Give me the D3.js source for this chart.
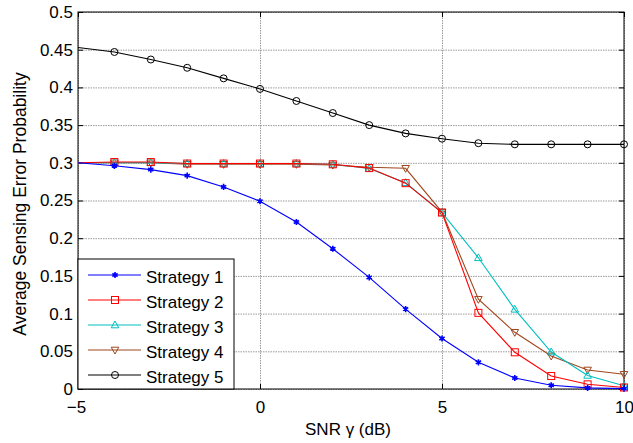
<!DOCTYPE html>
<html>
<head>
<meta charset="utf-8">
<script src="https://cdn.jsdelivr.net/npm/d3@7"></script>
<style>
  body { margin: 0; background: #fff; }
  text { font-family: "Liberation Sans", Arial, sans-serif; }
  .grid line { stroke: #9a9a9a; stroke-dasharray: 1.5,1; }
  .grid path { display: none; }
</style>
</head>
<body>
<div id="svganchor"></div>
<script>
let width = 633, height = 443;

let margin = ({top: 12, right: 9, bottom: 54, left: 78});

// data
let snr = [-5, -4, -3, -2, -1, 0, 1, 2, 3, 4, 5, 6, 7, 8, 9, 10];
let strategy1 = [0.300, 0.296, 0.291, 0.283, 0.268, 0.249, 0.2215, 0.186, 0.148, 0.106, 0.067, 0.0354, 0.0146, 0.005, 0.0015, 0.0005];
let strategy2 = [0.300, 0.301, 0.301, 0.299, 0.299, 0.299, 0.299, 0.298, 0.293, 0.273, 0.234, 0.101, 0.0487, 0.0172, 0.0062, 0.002];
let strategy3 = [0.300, 0.300, 0.300, 0.299, 0.299, 0.299, 0.299, 0.298, 0.2925, 0.2736, 0.234, 0.174, 0.1057, 0.049, 0.018, 0.0044];
let strategy4 = [0.300, 0.300, 0.300, 0.298, 0.298, 0.298, 0.298, 0.297, 0.294, 0.2927, 0.2347, 0.119, 0.0752, 0.0438, 0.0252, 0.0195];
let strategy5 = [0.453, 0.447, 0.437, 0.426, 0.412, 0.398, 0.382, 0.366, 0.350, 0.339, 0.332, 0.326, 0.3245, 0.3245, 0.3245, 0.3245];
let seriesNames = ["Strategy 1", "Strategy 2", "Strategy 3", "Strategy 4", "Strategy 5"];
let xTicks = [-5, 0, 5, 10];
let yTicks = [0, 0.05, 0.1, 0.15, 0.2, 0.25, 0.3, 0.35, 0.4, 0.45, 0.5];

let series = [
    {name: seriesNames[0], values: strategy1, color: "#0000ff", marker: "star"},
    {name: seriesNames[1], values: strategy2, color: "#ff0000", marker: "square"},
    {name: seriesNames[2], values: strategy3, color: "#00bfbf", marker: "up"},
    {name: seriesNames[3], values: strategy4, color: "#a0461e", marker: "down"},
    {name: seriesNames[4], values: strategy5, color: "#000000", marker: "circle"}
];

let fontSize = "17px";

let xScale = d3.scaleLinear()
    .domain([-5, 10])
    .range([margin.left, width - margin.right]);

let yScale = d3.scaleLinear()
    .domain([0, 0.5])
    .range([height - margin.bottom, margin.top]);

let svg = d3.select("#svganchor")
    .append("svg")
    .attr("width", width)
    .attr("height", height);

let plotW = width - margin.left - margin.right;
let plotH = height - margin.top - margin.bottom;

// grid
svg.append("g")
    .attr("class", "grid")
    .attr("transform", "translate(0," + (height - margin.bottom) + ")")
    .call(d3.axisBottom(xScale).tickValues(xTicks).tickSize(-plotH).tickFormat(""));

svg.append("g")
    .attr("class", "grid")
    .attr("transform", "translate(" + margin.left + ",0)")
    .call(d3.axisLeft(yScale).tickValues(yTicks).tickSize(-plotW).tickFormat(""));

// axes with inward ticks
let gX = svg.append("g")
    .attr("class", "x axis")
    .attr("transform", "translate(0," + (height - margin.bottom) + ")")
    .call(d3.axisBottom(xScale).tickValues(xTicks).tickSizeInner(-5).tickSizeOuter(0).tickPadding(12));

let gXTop = svg.append("g")
    .attr("transform", "translate(0," + margin.top + ")")
    .call(d3.axisTop(xScale).tickValues(xTicks).tickSizeInner(-5).tickSizeOuter(0).tickFormat(""));

let gY = svg.append("g")
    .attr("class", "y axis")
    .attr("transform", "translate(" + margin.left + ",0)")
    .call(d3.axisLeft(yScale).tickValues(yTicks).tickSizeInner(-5).tickSizeOuter(0).tickPadding(5)
        .tickFormat(function(d) { return d3.format("")(+d.toFixed(2)); }));

let gYRight = svg.append("g")
    .attr("transform", "translate(" + (width - margin.right) + ",0)")
    .call(d3.axisRight(yScale).tickValues(yTicks).tickSizeInner(-5).tickSizeOuter(0).tickFormat(""));

svg.selectAll(".tick text")
    .style("font-size", fontSize)
    .style("font-family", "'Liberation Sans', Arial, sans-serif")
    .attr("fill", "#000");

// minus sign centred like the original
gX.selectAll(".tick text").attr("dx", function(d) { return d < 0 ? "-2" : "0"; });

svg.selectAll(".domain").remove();

// box
svg.append("rect")
    .attr("x", margin.left)
    .attr("y", margin.top)
    .attr("width", plotW)
    .attr("height", plotH)
    .attr("fill", "none")
    .attr("stroke", "#000")
    .attr("stroke-width", 1);

// markers
function drawMarker(g, type, color, x, y) {
    if (type === "star") {
        g.append("path")
            .attr("d", d3.symbol().type(d3.symbolAsterisk).size(26)())
            .attr("transform", "translate(" + x + "," + y + ")")
            .attr("stroke", color)
            .attr("stroke-width", 1.6)
            .attr("fill", "none");
        g.append("circle")
            .attr("cx", x).attr("cy", y).attr("r", 1.6)
            .attr("fill", color);
    }
    else if (type === "square") {
        g.append("rect")
            .attr("x", x - 3.5).attr("y", y - 3.5)
            .attr("width", 7).attr("height", 7)
            .attr("fill", "none").attr("stroke", color);
    }
    else if (type === "up") {
        g.append("path")
            .attr("d", "M" + x + "," + (y - 4) + "L" + (x + 3.8) + "," + (y + 2.8) + "L" + (x - 3.8) + "," + (y + 2.8) + "Z")
            .attr("fill", "none").attr("stroke", color);
    }
    else if (type === "down") {
        g.append("path")
            .attr("d", "M" + x + "," + (y + 4) + "L" + (x + 3.8) + "," + (y - 2.8) + "L" + (x - 3.8) + "," + (y - 2.8) + "Z")
            .attr("fill", "none").attr("stroke", color);
    }
    else {
        g.append("circle")
            .attr("cx", x).attr("cy", y).attr("r", 3.5)
            .attr("fill", "none").attr("stroke", color);
    }
}

let line = d3.line()
    .x(function(d, i) { return xScale(snr[i]); })
    .y(function(d) { return yScale(d); });

series.slice().reverse().forEach(function(s) {
    let g = svg.append("g");
    g.append("path")
        .attr("d", line(s.values))
        .attr("fill", "none")
        .attr("stroke", s.color)
        .attr("stroke-width", 1.1);
    // the original shows no marker on the first point
    s.values.forEach(function(v, i) {
        if (i === 0) return;
        drawMarker(g, s.marker, s.color, xScale(snr[i]), yScale(v));
    });
});

// legend
let legend = svg.append("g");
legend.append("rect")
    .attr("x", margin.left)
    .attr("y", 259)
    .attr("width", 156)
    .attr("height", height - margin.bottom - 259)
    .attr("fill", "#fff")
    .attr("stroke", "#000");

series.forEach(function(s, i) {
    let y = 275 + i * 25;
    legend.append("line")
        .attr("x1", 88).attr("x2", 141)
        .attr("y1", y).attr("y2", y)
        .attr("stroke", s.color)
        .attr("stroke-width", 1.1);
    drawMarker(legend, s.marker, s.color, 115, y);
    legend.append("text")
        .attr("x", 146)
        .attr("y", y + 7.5)
        .style("font-size", fontSize)
        .text(s.name);
});

// titles
svg.append("text")
    .attr("text-anchor", "middle")
    .attr("x", 348)
    .attr("y", 435)
    .style("font-size", fontSize)
    .text("SNR \u03b3 (dB)");

svg.append("text")
    .attr("text-anchor", "middle")
    .attr("transform", "translate(26,204) rotate(-90)")
    .style("font-size", "17.5px")
    .text("Average Sensing Error Probability");
</script>
</body>
</html>
